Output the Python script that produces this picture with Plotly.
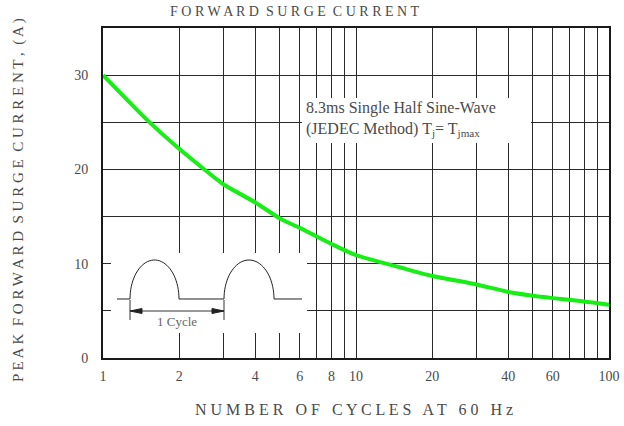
import numpy as np
import plotly.graph_objects as go

# ---- data ----
cycles = [1, 1.5, 2, 3, 4, 5, 6, 8, 10, 15, 20, 30, 40, 50, 60, 80, 100]
current = [30, 25.2, 22.2, 18.4, 16.5, 14.8, 13.8, 12.1, 10.9, 9.6, 8.7, 7.8, 7.0, 6.6, 6.35, 6.0, 5.65]

x_ticks = [1, 2, 4, 6, 8, 10, 20, 40, 60, 100]
x_minor = [3, 5, 7, 9, 30, 50, 70, 80, 90]
y_ticks = [0, 10, 20, 30]
y_minor = [5, 15, 25]

title_text = "FORWARD SURGE CURRENT"
x_title = "NUMBER OF CYCLES AT 60 Hz"
y_title = "PEAK FORWARD SURGE CURRENT, (A)"
note_1 = "8.3ms Single Half Sine-Wave"
note_2 = "(JEDEC Method) T<sub>j</sub>= T<sub>jmax</sub>"
cycle_label = "1 Cycle"

W, H = 624, 426
ML, MR, MT, MB = 103, 15, 28, 68
PW, PH = W - ML - MR, H - MT - MB
FONT = "Liberation Serif"
TXT = "#4a4a4a"
GRID = "#2a2a2a"


def spaced(s, gap="   "):
    return gap.join(" ".join(w) for w in s.split(" "))


def px(x):
    return (x - ML) / PW


def py(y):
    return (MT + PH - y) / PH


fig = go.Figure()
fig.add_trace(go.Scatter(
    x=cycles, y=current, mode="lines",
    line=dict(color="#16ee16", width=4, shape="spline", smoothing=0.5),
    hoverinfo="skip", showlegend=False,
))

shapes = []
# white boxes that interrupt the grid
for (x0, y0, x1, y1) in [(302, 98, 531, 143), (111, 253, 307, 333)]:
    shapes.append(dict(type="rect", xref="paper", yref="paper",
                       x0=px(x0), x1=px(x1), y0=py(y1), y1=py(y0),
                       fillcolor="white", line=dict(width=0), layer="above"))

# inset waveform
base, peak = 299, 260
path = "M %f,%f L %f,%f " % (px(117), py(base), px(130), py(base))
for (a, b, nxt) in [(130, 179, 224), (224, 274, 302)]:
    for t in np.linspace(0, np.pi, 40):
        xx = a + (b - a) * (1 - np.cos(t)) / 2
        yy = base - (base - peak) * np.sin(t)
        path += "L %f,%f " % (px(xx), py(yy))
    path += "L %f,%f " % (px(nxt), py(base))
shapes.append(dict(type="path", xref="paper", yref="paper", path=path,
                   line=dict(color="#222", width=1), layer="above"))
# cycle dimension line
shapes.append(dict(type="line", xref="paper", yref="paper",
                   x0=px(130), x1=px(224), y0=py(311), y1=py(311),
                   line=dict(color="#333", width=1), layer="above"))
for xv in (130, 224):
    shapes.append(dict(type="line", xref="paper", yref="paper",
                       x0=px(xv), x1=px(xv), y0=py(300), y1=py(320),
                       line=dict(color="#333", width=1), layer="above"))
for (tip, back) in [(130, 142), (224, 212)]:
    tri = "M %f,%f L %f,%f L %f,%f Z" % (px(tip), py(311), px(back), py(308.5), px(back), py(313.5))
    shapes.append(dict(type="path", xref="paper", yref="paper", path=tri,
                       fillcolor="#222", line=dict(color="#222", width=1), layer="above"))

annotations = [
    dict(text=spaced(title_text, "  "), xref="paper", yref="paper", x=px(294), y=py(11),
         showarrow=False, font=dict(family=FONT, size=14, color=TXT), xanchor="center", yanchor="middle"),
    dict(text=spaced(x_title), xref="paper", yref="paper", x=px(354), y=py(410),
         showarrow=False, font=dict(family=FONT, size=16, color=TXT), xanchor="center", yanchor="middle"),
    dict(text=spaced(y_title, "  "), xref="paper", yref="paper", x=px(18), y=py(200),
         showarrow=False, textangle=-90, font=dict(family=FONT, size=15, color=TXT),
         xanchor="center", yanchor="middle"),
    dict(text=note_1, xref="paper", yref="paper", x=px(304), y=py(108),
         showarrow=False, font=dict(family=FONT, size=16, color=TXT), xanchor="left", yanchor="middle"),
    dict(text=note_2, xref="paper", yref="paper", x=px(304), y=py(129),
         showarrow=False, font=dict(family=FONT, size=16, color=TXT), xanchor="left", yanchor="middle"),
    dict(text=cycle_label, xref="paper", yref="paper", x=px(177), y=py(321),
         showarrow=False, font=dict(family=FONT, size=13, color="#666"), xanchor="center", yanchor="middle"),
]

fig.update_layout(
    width=W, height=H, margin=dict(l=ML, r=MR, t=MT, b=MB, autoexpand=False),
    paper_bgcolor="white", plot_bgcolor="white",
    shapes=shapes, annotations=annotations, showlegend=False,
    font=dict(family=FONT, size=14, color=TXT),
)
fig.update_xaxes(type="log", range=[0, 2], tickmode="array", tickvals=x_ticks,
                 ticktext=[str(v) for v in x_ticks],
                 minor=dict(tickmode="array", tickvals=x_minor, showgrid=True,
                            gridcolor=GRID, gridwidth=1.3, ticks=""),
                 showgrid=True, gridcolor=GRID, gridwidth=1.3, zeroline=False,
                 showline=True, mirror=True, linecolor="#1a1a1a", linewidth=2,
                 ticks="", ticklabelstandoff=4, automargin=False, tickangle=0,
                 tickfont=dict(family=FONT, size=14, color=TXT))
fig.update_yaxes(range=[0, 35], tickmode="array", tickvals=y_ticks,
                 ticktext=[str(v) for v in y_ticks],
                 minor=dict(tickmode="array", tickvals=y_minor, showgrid=True,
                            gridcolor=GRID, gridwidth=1.3, ticks=""),
                 showgrid=True, gridcolor=GRID, gridwidth=1.3, zeroline=False,
                 showline=True, mirror=True, linecolor="#1a1a1a", linewidth=2,
                 ticks="", ticklabelstandoff=10, automargin=False,
                 tickfont=dict(family=FONT, size=14, color=TXT))

fig.write_html("out.html", config={"displayModeBar": False},
               post_script="document.body.style.margin='0px';")
